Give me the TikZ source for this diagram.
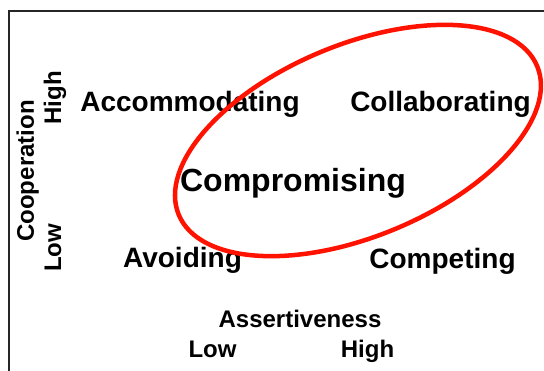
\documentclass[tikz,border=0pt]{standalone}
\usepackage{fontspec}
\setmainfont{Liberation Sans}
\begin{document}
\begin{tikzpicture}[x=1pt,y=-1pt,
  mode/.style={inner sep=0pt, anchor=base, font=\bfseries\fontsize{28}{30}\selectfont},
  center mode/.style={inner sep=0pt, anchor=base, font=\bfseries\fontsize{32}{34}\selectfont},
  axislabel/.style={inner sep=0pt, anchor=base, font=\bfseries\fontsize{24}{26}\selectfont},
  vlabel/.style={axislabel, rotate=90},
  ring/.style={draw=red!85!orange, line width=4.5pt}]
\useasboundingbox (0,0) rectangle (544,371);
\clip (0,0) rectangle (544,371);
\fill[white] (0,0) rectangle (544,371);
% open frame running off the right and bottom
\draw[line width=1.5pt, black!85] (9,400) -- (9,11) -- (560,11);

% the five conflict modes
\node[mode] (accommodating) at (190,112) {Accommodating};
\node[mode] (collaborating) at (440.5,112) {Collaborating};
\node[center mode] (compromising) at (293,192) {Compromising};
\node[mode] (avoiding) at (182.5,268) {Avoiding};
\node[mode] (competing) at (442.5,269) {Competing};

% horizontal axis
\node[axislabel] (assert) at (300,328) {Assertiveness};
\node[axislabel] (alow) at (212.5,358) {Low};
\node[axislabel] (ahigh) at (367.5,358) {High};

% vertical axis
\node[vlabel] (coop) at (34,171) {Cooperation};
\node[vlabel] (chigh) at (61,98) {High};
\node[vlabel] (clow) at (61,248) {Low};

% highlight ring
\coordinate (ringc) at (358,140.5);
\draw[ring, rotate around={22.5:(ringc)}] (ringc) ellipse [x radius=194, y radius=96];
\end{tikzpicture}
\end{document}
